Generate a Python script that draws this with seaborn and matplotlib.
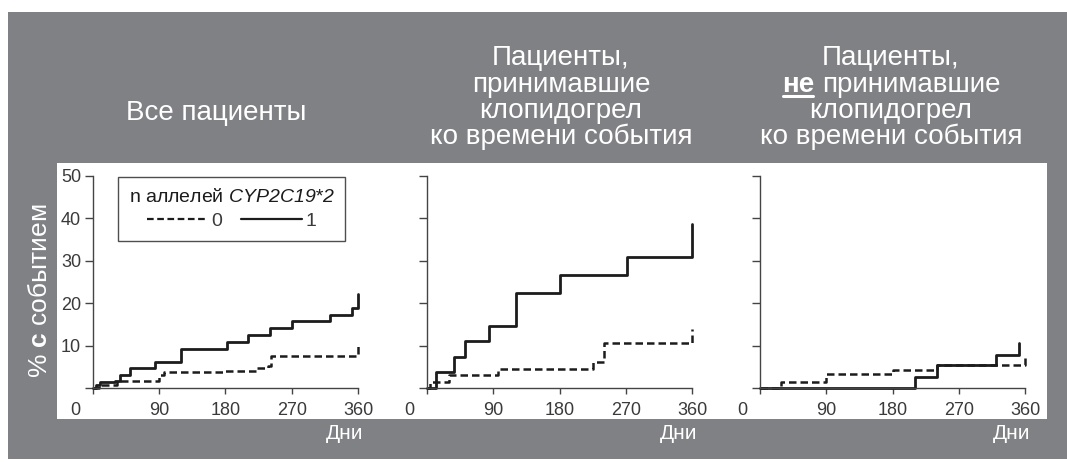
import matplotlib
matplotlib.use("Agg")
import matplotlib.pyplot as plt
from matplotlib.patches import Rectangle
from matplotlib.lines import Line2D
import seaborn as sns

# ---- data: cumulative % of patients with an event (Kaplan-Meier style steps)
# all patients
all_days_0 = [0, 8, 32, 90, 96, 180, 223, 238, 242, 360]
all_pct_0 = [0, 0.7, 1.7, 3.1, 3.7, 4.0, 4.7, 5.3, 7.6, 10.0]
all_days_1 = [0, 4, 9, 30, 36, 50, 84, 120, 182, 210, 240, 271, 322, 352, 360]
all_pct_1 = [0, 0.7, 1.3, 1.7, 3.1, 4.7, 6.2, 9.2, 10.8, 12.4, 14.2, 15.7, 17.2, 18.9, 22.1]

# patients on clopidogrel at the time of the event
on_days_0 = [0, 4, 30, 96, 225, 241, 360]
on_pct_0 = [0, 1.4, 3.0, 4.4, 6.2, 10.7, 14.0]
on_days_1 = [0, 12, 37, 51, 84, 121, 181, 272, 360]
on_pct_1 = [0, 3.8, 7.3, 11.0, 14.7, 22.5, 26.7, 30.8, 38.7]

# patients NOT on clopidogrel at the time of the event
off_days_0 = [0, 29, 90, 180, 241, 360]
off_pct_0 = [0, 1.3, 3.3, 4.3, 5.4, 7.2]
off_days_1 = [0, 210, 241, 320, 352]
off_pct_1 = [0, 2.5, 5.4, 7.8, 10.6]

x_ticks = [0, 90, 180, 270, 360]
x_tick_labels = ["", "90", "180", "270", "360"]
y_ticks = [0, 10, 20, 30, 40, 50]
y_tick_labels = ["", "10", "20", "30", "40", "50"]

title_all = "Все пациенты"
title_on = ["Пациенты,", "принимавшие", "клопидогрел", "ко времени события"]
title_off_first = "Пациенты,"
title_off_bold = "не"
title_off_rest = ["принимавшие", "клопидогрел", "ко времени события"]
x_label = "Дни"
y_label = r"% $\mathbf{с}$ событием"
legend_title = r"n аллелей $\mathit{CYP2C19{*}2}$"
legend_labels = ["0", "1"]

# ---- style
sns.set_theme(style="white")
plt.rcParams["font.family"] = ["Liberation Sans", "DejaVu Sans"]
plt.rcParams["mathtext.fontset"] = "custom"
# digits and symbols inside \mathit fall back to the "rm" face, keep it italic
plt.rcParams["mathtext.rm"] = "Liberation Sans:italic"
plt.rcParams["mathtext.it"] = "Liberation Sans:italic"
plt.rcParams["mathtext.bf"] = "Liberation Sans:bold"

GREY = "#808185"
INK = "#1c1c1c"
AXIS = "#444444"
TICKTXT = "#3a3a3a"
W, H = 1067, 462

fig = plt.figure(figsize=(W / 100, H / 100), dpi=100, facecolor="white")


def fx(px):
    return px / W


def fy(py):
    return 1 - py / H


# grey backdrop and white plotting band (kept behind the axes)
fig.patches.append(Rectangle((fx(8), fy(459)), fx(1067 - 8), (459 - 12) / H,
                             transform=fig.transFigure, facecolor=GREY,
                             edgecolor="none", zorder=-20))
fig.patches.append(Rectangle((fx(57), fy(419)), fx(1047 - 57), (419 - 163) / H,
                             transform=fig.transFigure, facecolor="white",
                             edgecolor="none", zorder=-10))

panels = [
    (93, all_days_0, all_pct_0, all_days_1, all_pct_1),
    (427, on_days_0, on_pct_0, on_days_1, on_pct_1),
    (760, off_days_0, off_pct_0, off_days_1, off_pct_1),
]

dash_style = (0, (3, 1.6))
axes = []
for i, (left, d0, p0, d1, p1) in enumerate(panels):
    ax = fig.add_axes([fx(left), fy(388), 265 / W, 212 / H])
    ax.set_zorder(1)
    ax.set_facecolor("none")
    sns.lineplot(x=d0, y=p0, ax=ax, drawstyle="steps-post", color=INK,
                 linewidth=1.8, linestyle=dash_style, estimator=None,
                 sort=False, legend=False)
    sns.lineplot(x=d1, y=p1, ax=ax, drawstyle="steps-post", color=INK,
                 linewidth=2.0, estimator=None, sort=False, legend=False)
    for ln in ax.lines:
        ln.set_clip_on(False)
    ax.set_xlim(0, 360)
    ax.set_ylim(0, 50)
    ax.set_xlabel("")
    ax.set_ylabel("")
    for side in ("top", "right"):
        ax.spines[side].set_visible(False)
    for side in ("left", "bottom"):
        ax.spines[side].set_color(AXIS)
        ax.spines[side].set_linewidth(1.0)
    ax.set_xticks(x_ticks)
    ax.set_xticklabels(x_tick_labels)
    ax.set_yticks(y_ticks)
    ax.set_yticklabels(y_tick_labels if i == 0 else [""] * len(y_ticks))
    ax.tick_params(axis="x", direction="out", length=4, width=1, color=AXIS,
                   pad=6, labelsize=13, labelcolor=TICKTXT, bottom=True)
    ax.tick_params(axis="y", direction="out", length=6, width=1, color=AXIS,
                   pad=2.5, labelsize=13, labelcolor=TICKTXT, left=True)
    ax.annotate("0", xy=(0, 0), xycoords="data", xytext=(-12.5, -10),
                textcoords="offset points", ha="center", va="top",
                fontsize=13, color=TICKTXT, annotation_clip=False)
    ax.annotate(x_label, xy=(360, 0), xycoords="data", xytext=(4, -26),
                textcoords="offset points", ha="right", va="top",
                fontsize=15, color="white", annotation_clip=False)
    axes.append(ax)

# legend in the first panel
handles = [Line2D([], [], color=INK, linewidth=1.6, linestyle=dash_style),
           Line2D([], [], color=INK, linewidth=1.6)]
leg = axes[0].legend(handles, legend_labels, title=legend_title, ncol=2,
                     loc="upper left", bbox_to_anchor=(fx(118), fy(177)),
                     bbox_transform=fig.transFigure, frameon=True,
                     fancybox=False, edgecolor="#222222", borderaxespad=0,
                     handlelength=3.1, columnspacing=1.0, handletextpad=0.2,
                     fontsize=14, title_fontsize=14, borderpad=0.55,
                     labelspacing=0.35)
leg.get_frame().set_linewidth(1.0)
leg.get_frame().set_facecolor("white")
for t in leg.get_texts():
    t.set_color(TICKTXT)
leg.get_title().set_color(INK)

# y label
fig.text(fx(40), fy(291), y_label, rotation=90, ha="center", va="center",
         color="white", fontsize=19)

# panel titles
TFS = 20
fig.text(fx(216), fy(120), title_all, ha="center", va="baseline",
         color="white", fontsize=TFS)
baselines = [65, 92, 118, 144]
for line, b in zip(title_on, baselines):
    fig.text(fx(561), fy(b), line, ha="center", va="baseline",
             color="white", fontsize=TFS)

cx3 = 891
fig.text(fx(cx3), fy(baselines[0]), title_off_first, ha="center",
         va="baseline", color="white", fontsize=TFS)
for line, b in zip(title_off_rest[1:], baselines[2:]):
    fig.text(fx(cx3), fy(b), line, ha="center", va="baseline",
             color="white", fontsize=TFS)

# second line: bold, underlined "не" followed by regular text, centred together
renderer = fig.canvas.get_renderer()
t_bold = fig.text(0, fy(baselines[1]), title_off_bold, ha="left",
                  va="baseline", color="white", fontsize=TFS,
                  fontweight="bold")
t_rest = fig.text(0, fy(baselines[1]), title_off_rest[0], ha="left",
                  va="baseline", color="white", fontsize=TFS)
w_bold = t_bold.get_window_extent(renderer).width
w_rest = t_rest.get_window_extent(renderer).width
probe_a = fig.text(0, 0, "а а", fontsize=TFS)
probe_b = fig.text(0, 0, "аа", fontsize=TFS)
space = (probe_a.get_window_extent(renderer).width
         - probe_b.get_window_extent(renderer).width)
probe_a.remove()
probe_b.remove()
start = cx3 - (w_bold + space + w_rest) / 2
t_bold.set_x(fx(start))
t_rest.set_x(fx(start + w_bold + space))
ul_y = fy(baselines[1] + 4)
fig.add_artist(Line2D([fx(start + 1), fx(start + w_bold - 1)], [ul_y, ul_y],
                      transform=fig.transFigure, color="white",
                      linewidth=2.2))

fig.savefig("out.png", dpi=100, facecolor="white")
